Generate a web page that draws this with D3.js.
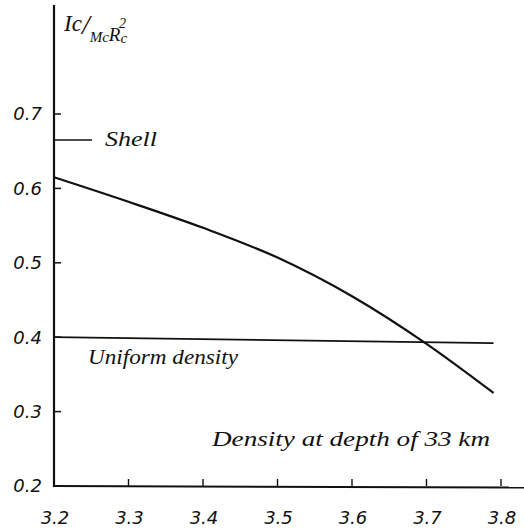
<!DOCTYPE html>
<html>
<head>
<meta charset="utf-8">
<script src="https://cdn.jsdelivr.net/npm/d3@7"></script>
<style>
  html, body { margin: 0; padding: 0; background: #fff; }
  svg { display: block; }
</style>
</head>
<body>
<svg id="chart" width="524" height="530"></svg>
<script>
// Moment of inertia ratio vs. density at depth of 33 km
const density = [3.2, 3.3, 3.4, 3.5, 3.6, 3.7, 3.79];
const inertia = [0.615, 0.582, 0.547, 0.507, 0.455, 0.391, 0.325];
const uniformX = [3.2, 3.79];
const uniformY = [0.400, 0.392];
const shellValue = 0.665;
const xTicks = [3.2, 3.3, 3.4, 3.5, 3.6, 3.7, 3.8];
const yTicks = [0.2, 0.3, 0.4, 0.5, 0.6, 0.7];

const svg = d3.select("#chart");
const x = d3.scaleLinear().domain([3.2, 3.8]).range([54, 501]);
const y = d3.scaleLinear().domain([0.2, 0.7]).range([486, 114]);

const ink = "#111";
const numFont = "'DejaVu Sans', sans-serif";
const scriptFont = "'Liberation Serif', 'DejaVu Serif', serif";

// Axes
svg.append("line").attr("x1", x(3.2)).attr("x2", x(3.2)).attr("y1", 5).attr("y2", y(0.2) + 1)
  .attr("stroke", ink).attr("stroke-width", 2.2);
svg.append("line").attr("x1", x(3.2)).attr("x2", 524).attr("y1", y(0.2)).attr("y2", y(0.2) + 1.5)
  .attr("stroke", ink).attr("stroke-width", 2);

// Y ticks (inward) and labels
svg.selectAll(".ytick").data(yTicks.filter(d => d > 0.2)).enter().append("line")
  .attr("x1", x(3.2)).attr("x2", x(3.2) + 7)
  .attr("y1", d => y(d)).attr("y2", d => y(d))
  .attr("stroke", ink).attr("stroke-width", 1.5);
svg.selectAll(".ylab").data(yTicks).enter().append("text")
  .attr("x", 42).attr("y", d => y(d)).attr("dy", "0.36em")
  .attr("text-anchor", "end").attr("font-family", numFont).attr("font-style", "italic")
  .attr("font-size", 18).attr("fill", ink)
  .text(d => d.toFixed(1));

// X ticks (upward) and labels
svg.selectAll(".xtick").data(xTicks.filter(d => d > 3.2)).enter().append("line")
  .attr("x1", d => x(d)).attr("x2", d => x(d))
  .attr("y1", y(0.2)).attr("y2", y(0.2) - 7)
  .attr("stroke", ink).attr("stroke-width", 1.4);
svg.selectAll(".xlab").data(xTicks).enter().append("text")
  .attr("x", d => x(d) + 1).attr("y", 524)
  .attr("text-anchor", "middle").attr("font-family", numFont).attr("font-style", "italic")
  .attr("font-size", 18).attr("fill", ink)
  .text(d => d.toFixed(1));

// Main curve
const line = d3.line().x(d => x(d[0])).y(d => y(d[1])).curve(d3.curveMonotoneX);
svg.append("path").datum(density.map((d, i) => [d, inertia[i]]))
  .attr("d", line).attr("fill", "none").attr("stroke", ink).attr("stroke-width", 2.2);

// Uniform density line
svg.append("path").datum(uniformX.map((d, i) => [d, uniformY[i]]))
  .attr("d", d3.line().x(d => x(d[0])).y(d => y(d[1])))
  .attr("fill", "none").attr("stroke", ink).attr("stroke-width", 1.8);

// Shell marker
svg.append("line").attr("x1", x(3.2)).attr("x2", 92).attr("y1", y(shellValue)).attr("y2", y(shellValue))
  .attr("stroke", ink).attr("stroke-width", 1.6);

// Annotations
svg.append("text").attr("x", 105).attr("y", 146)
  .attr("font-family", scriptFont).attr("font-style", "italic").attr("font-size", 22)
  .attr("textLength", 52).attr("lengthAdjust", "spacingAndGlyphs")
  .attr("fill", ink).text("Shell");
svg.append("text").attr("x", 88).attr("y", 364)
  .attr("font-family", scriptFont).attr("font-style", "italic").attr("font-size", 21)
  .attr("textLength", 150).attr("lengthAdjust", "spacingAndGlyphs")
  .attr("fill", ink).text("Uniform density");
svg.append("text").attr("x", 212).attr("y", 446)
  .attr("font-family", scriptFont).attr("font-style", "italic").attr("font-size", 22)
  .attr("textLength", 278).attr("lengthAdjust", "spacingAndGlyphs")
  .attr("fill", ink).text("Density at depth of 33 km");

// Y axis title: Ic / Mc Rc^2
const title = svg.append("text").attr("x", 64).attr("y", 31)
  .attr("font-family", scriptFont).attr("font-style", "italic").attr("fill", ink);
title.append("tspan").attr("font-size", 23).text("Ic");
title.append("tspan").attr("font-size", 28).attr("dy", 3).text("/");
title.append("tspan").attr("font-size", 15).attr("dy", 8).text("M");
title.append("tspan").attr("font-size", 15).text("c");
title.append("tspan").attr("font-size", 19).attr("dy", -1).text("R");
title.append("tspan").attr("font-size", 15).attr("dy", 2).text("c");
title.append("tspan").attr("font-size", 14).attr("dx", -8).attr("dy", -15).text("2");
</script>
</body>
</html>
